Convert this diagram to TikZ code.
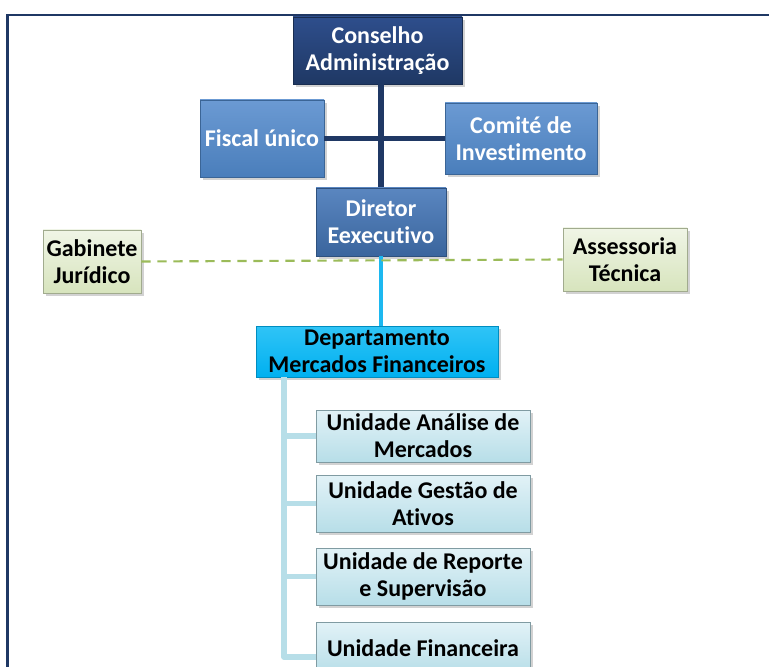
\documentclass[tikz,border=0pt]{standalone}
\usepackage{fontspec}
\setmainfont[Ligatures=NoCommon]{Carlito}
\usetikzlibrary{shadows,calc}
\definecolor{navy}{HTML}{1F3864}
\definecolor{navytop}{HTML}{2E4E8C}
\definecolor{midblue}{HTML}{4A7EBB}
\definecolor{midbluetop}{HTML}{6B9AD3}
\definecolor{dirblue}{HTML}{3A659D}
\definecolor{dirbluetop}{HTML}{5A86C0}
\definecolor{cyanbox}{HTML}{00B0F0}
\definecolor{cyantop}{HTML}{30C4F6}
\definecolor{unitbot}{HTML}{B7DEE8}
\definecolor{unittop}{HTML}{E2F2F7}
\definecolor{khakibot}{HTML}{D7E4BD}
\definecolor{khakitop}{HTML}{F0F5E6}
\definecolor{dashgreen}{HTML}{9BBB59}
\definecolor{trunk}{HTML}{B7DEE8}
\definecolor{cyanline}{HTML}{1CB8F0}
\tikzset{
  box/.style={rectangle, inner sep=1pt, align=center, font=\bfseries\fontsize{18}{20.5}\selectfont,
    drop shadow={shadow xshift=2pt, shadow yshift=-2pt, opacity=0.35}},
  darkbox/.style={box, text=white, top color=navytop, bottom color=navy, draw=navy!80!black, line width=0.6pt},
  bluebox/.style={box, text=white, top color=midbluetop, bottom color=midblue, draw=midblue!80!black, line width=0.5pt},
  dirbox/.style={box, text=white, top color=dirbluetop, bottom color=dirblue, draw=dirblue!80!black, line width=0.5pt},
  cyanbox/.style={box, text=black, top color=cyantop, bottom color=cyanbox, draw=cyanbox!80!black, line width=0.5pt},
  unitbox/.style={box, text=black, top color=unittop, bottom color=unitbot, draw=unitbot!70!black, line width=0.4pt},
  khakibox/.style={box, text=black, top color=khakitop, bottom color=khakibot, draw=khakibot!75!black, line width=0.4pt},
  navyline/.style={draw=navy, line width=4pt},
  cyanconn/.style={draw=cyanline, line width=3pt},
  trunkline/.style={draw=trunk, line width=4pt, line join=round},
  greendash/.style={draw=dashgreen, line width=1.6pt, dash pattern=on 7pt off 5pt},
}
\begin{document}
\begin{tikzpicture}[x=0.75pt, y=-0.75pt]
\useasboundingbox (0,0) rectangle (769,667);
\fill[white] (0,0) rectangle (769,667);
% frame
\draw[navy, line width=2.2pt] (7.5,668) -- (7.5,15) -- (770,15);
% connector end points
\coordinate (vtop) at (381,84);
\coordinate (vbot) at (381,189);
\coordinate (trunktop) at (284,377);
\coordinate (trunkbot) at (284,657);
% nodes
\node[darkbox, minimum width=169*0.75pt, minimum height=67*0.75pt] (cons) at (377.5,50.5) {Conselho\\Administração};
\node[bluebox, minimum width=124*0.75pt, minimum height=77*0.75pt] (fisc) at (262,138.5) {Fiscal único};
\node[bluebox, minimum width=152*0.75pt, minimum height=71*0.75pt] (comi) at (521,138.5) {Comité de\\Investimento};
\draw[navyline] (fisc.east) -- (comi.west);
\draw[navyline] (vtop) -- (vbot);
\node[dirbox, minimum width=130*0.75pt, minimum height=68*0.75pt] (dir) at (381,222) {Diretor\\Eexecutivo};
\node[khakibox, minimum width=98*0.75pt, minimum height=63*0.75pt] (gab) at (92,261.5) {Gabinete\\Jurídico};
\node[khakibox, minimum width=124*0.75pt, minimum height=63*0.75pt] (ass) at (625,259.5) {Assessoria\\Técnica};
\node[cyanbox, minimum width=242*0.75pt, minimum height=51*0.75pt] (dep) at (377,351.5) {Departamento\\Mercados Financeiros};
\draw[cyanconn] (dir.south) -- (dir.south |- dep.north);
\draw[greendash] (gab.east) -- (ass.west);
\node[unitbox, minimum width=214*0.75pt, minimum height=52*0.75pt] (u1) at (423,436) {Unidade Análise de\\Mercados};
\node[unitbox, minimum width=214*0.75pt, minimum height=57*0.75pt] (u2) at (423,503.5) {Unidade Gestão de\\Ativos};
\node[unitbox, minimum width=214*0.75pt, minimum height=57*0.75pt] (u3) at (423,576.5) {Unidade de Reporte\\e Supervisão};
\node[unitbox, minimum width=214*0.75pt, minimum height=52*0.75pt] (u4) at (423,648) {Unidade Financeira};
\draw[trunkline] (trunktop) -- (trunkbot) -- (trunkbot -| u4.west);
\draw[trunkline] (trunktop |- u1.west) -- (u1.west);
\draw[trunkline] (trunktop |- u2.west) -- (u2.west);
\draw[trunkline] (trunktop |- u3.west) -- (u3.west);
\end{tikzpicture}
\end{document}
